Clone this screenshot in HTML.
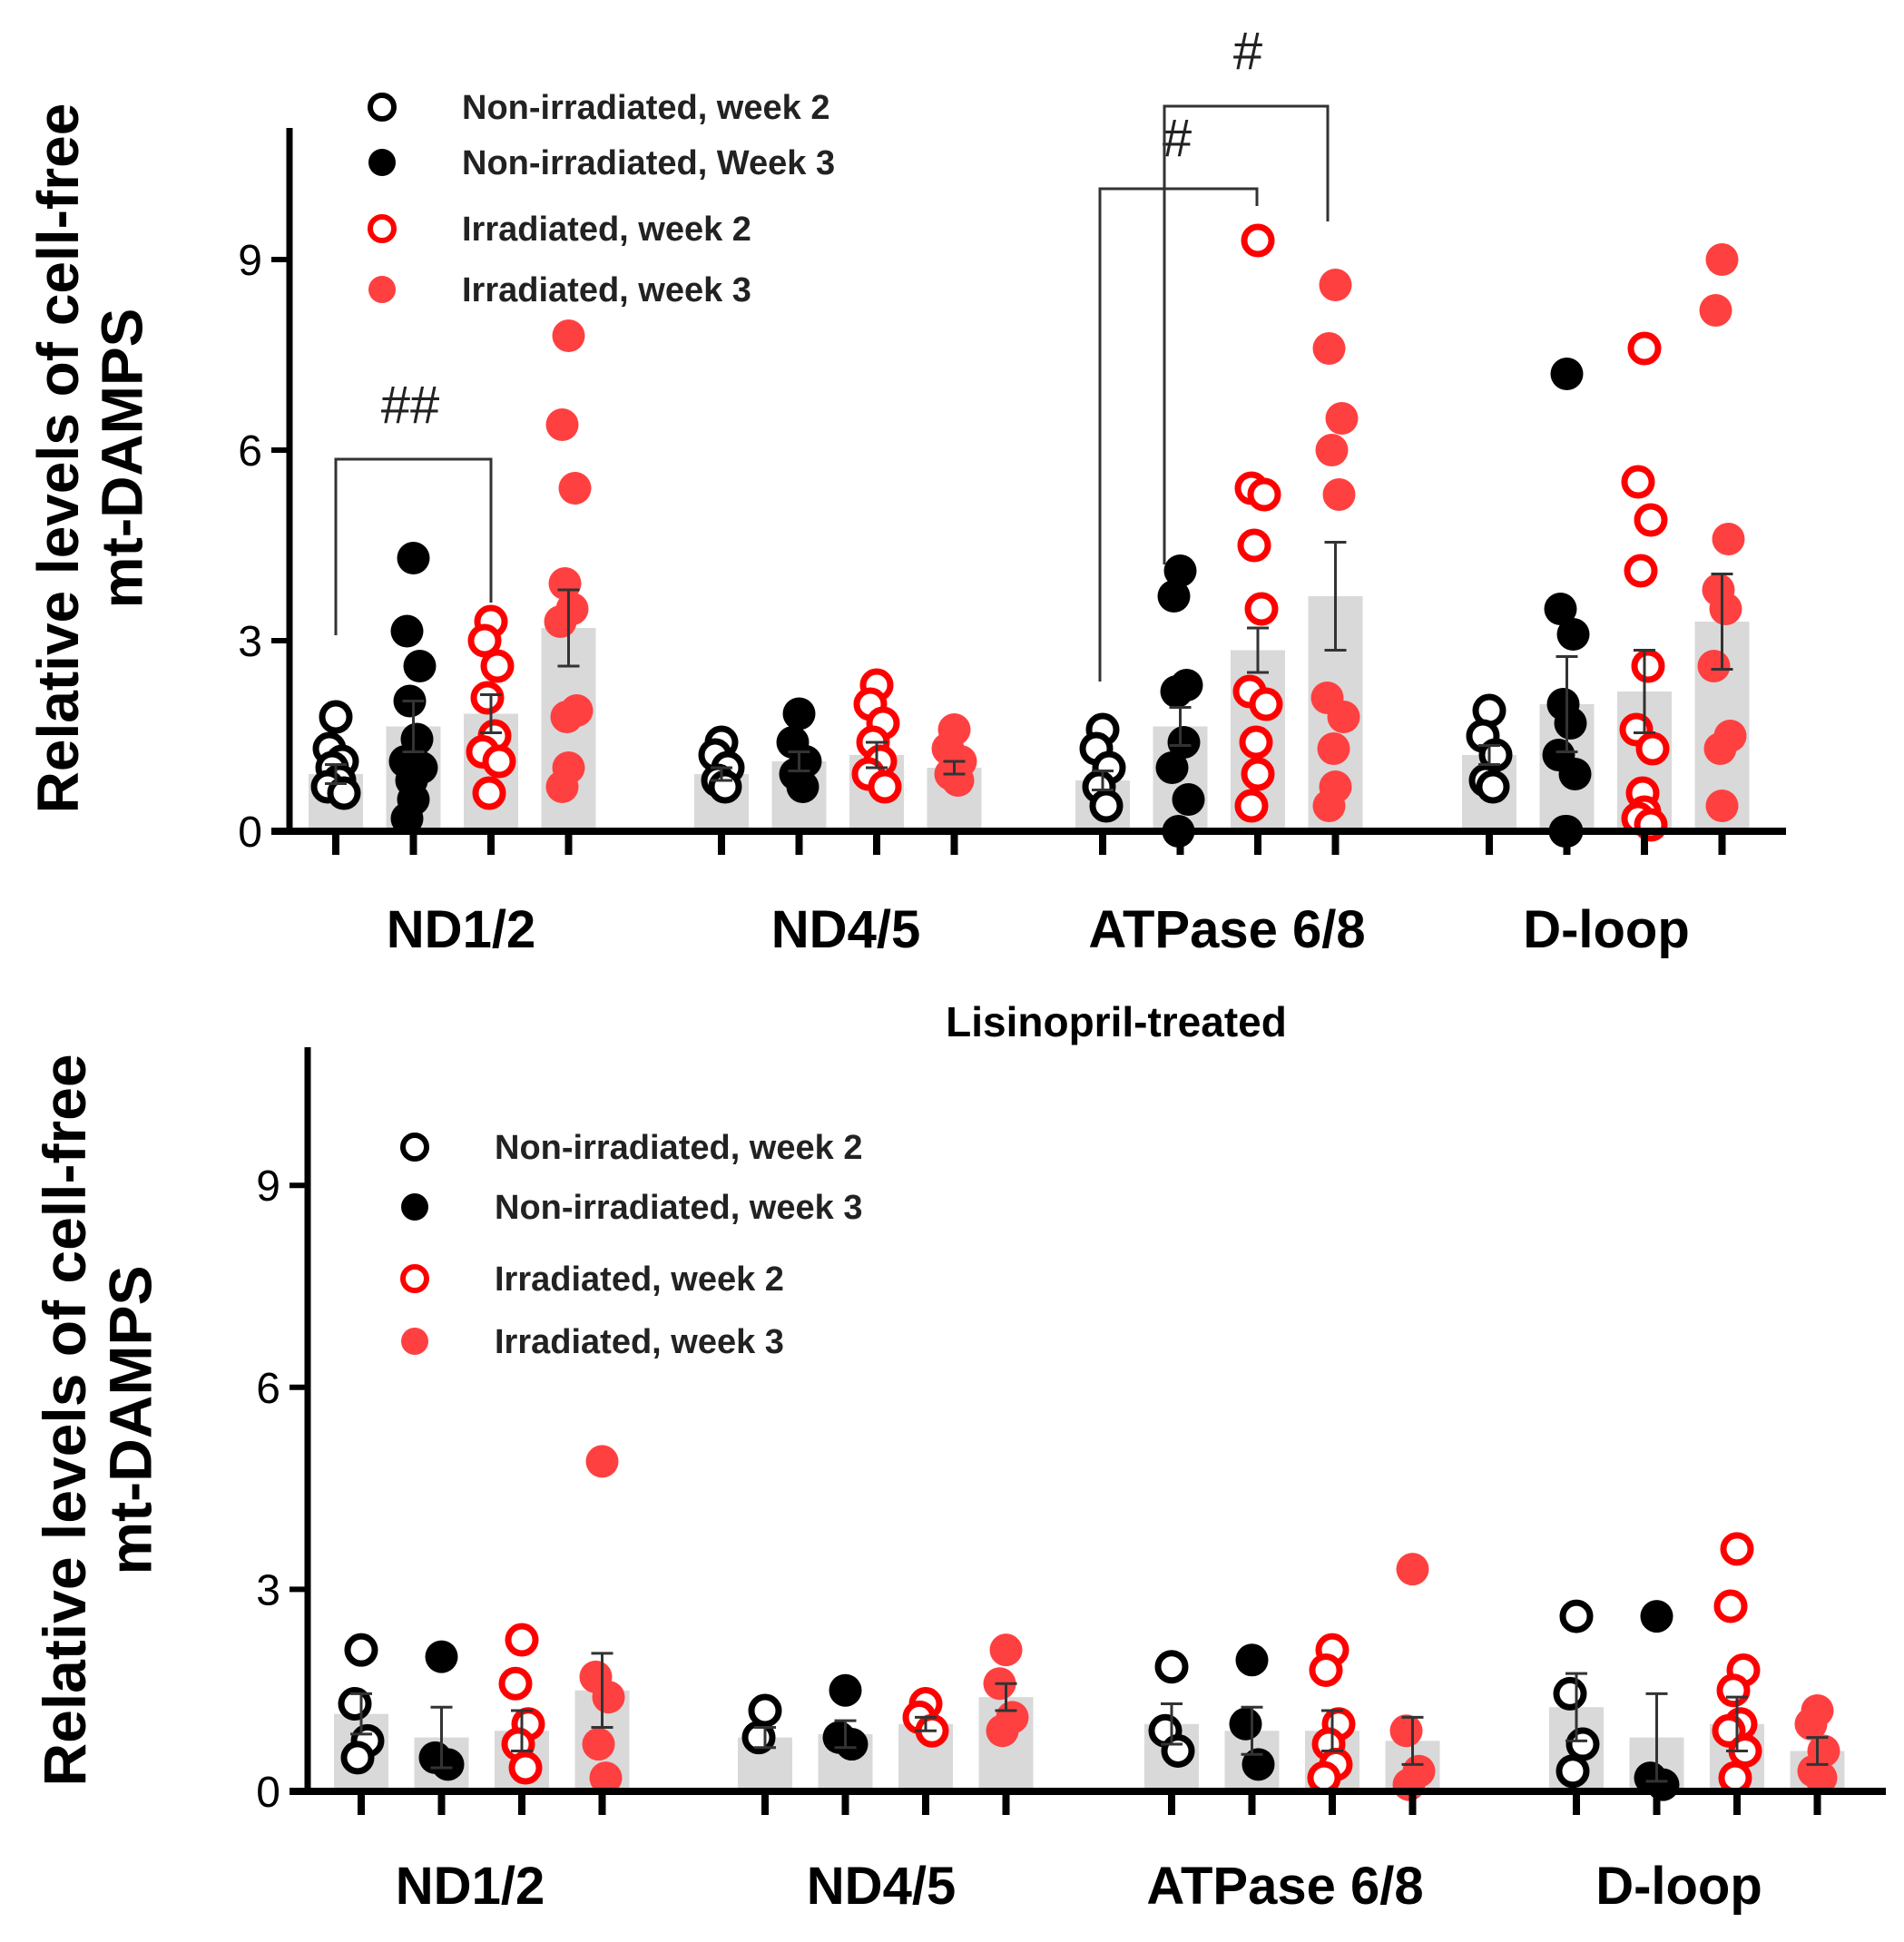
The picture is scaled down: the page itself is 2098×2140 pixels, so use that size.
<!DOCTYPE html>
<html><head><meta charset="utf-8"><style>
html,body{margin:0;padding:0;background:#fff;}
svg{display:block;font-family:"Liberation Sans",sans-serif;}
</style></head><body>
<svg id="chart" width="2098" height="2140" viewBox="0 0 2098 2140" xmlns="http://www.w3.org/2000/svg"></svg>
<script>
const categories = ["ND1/2","ND4/5","ATPase 6/8","D-loop"];
const seriesNames = ["Non-irradiated, week 2","Non-irradiated, week 3","Irradiated, week 2","Irradiated, week 3"];
const seriesNamesTop = ["Non-irradiated, week 2","Non-irradiated, Week 3","Irradiated, week 2","Irradiated, week 3"];
const yTicks = [0,3,6,9];
// Top panel (untreated)
const topMeans = [[0.9,1.65,1.85,3.2],[0.9,1.1,1.2,1.0],[0.8,1.65,2.85,3.7],[1.2,2.0,2.2,3.3]];
const topErr = [[0.15,0.4,0.3,0.6],[0.1,0.15,0.2,0.1],[0.15,0.3,0.35,0.85],[0.15,0.75,0.65,0.75]];
const topPoints = [
 [[1.8,1.3,1.1,1.0,0.8,0.7,0.6],[4.3,3.15,2.6,2.05,1.45,1.1,1.0,0.8,0.5,0.2],[3.3,3.0,2.6,2.1,1.5,1.25,1.1,0.6],[7.8,6.4,5.4,3.9,3.5,3.3,1.9,1.8,1.0,0.7]],
 [[1.4,1.2,1.0,0.8,0.7],[1.85,1.4,1.1,0.9,0.7],[2.3,2.0,1.7,1.4,1.1,0.9,0.7],[1.6,1.3,1.1,0.9,0.8]],
 [[1.6,1.3,1.0,0.7,0.4],[4.1,3.7,2.3,2.2,1.4,1.0,0.5,0.0],[9.3,5.4,5.3,4.5,3.5,2.2,2.0,1.4,0.9,0.4],[8.6,7.6,6.5,6.0,5.3,2.1,1.8,1.3,0.7,0.4]],
 [[1.9,1.5,1.2,0.8,0.7],[7.2,3.5,3.1,2.0,1.7,1.2,0.9,0.0,0.0],[7.6,5.5,4.9,4.1,2.6,1.6,1.3,0.6,0.3,0.2,0.1],[9.0,8.2,4.6,3.8,3.5,2.6,1.5,1.3,0.4]]
];
// Bottom panel (lisinopril-treated)
const botMeans = [[1.15,0.8,0.9,1.5],[0.8,0.85,1.0,1.4],[1.0,0.9,0.9,0.75],[1.25,0.8,1.0,0.6]];
const botErr = [[0.3,0.45,0.3,0.55],[0.15,0.2,0.1,0.2],[0.3,0.35,0.3,0.35],[0.5,0.65,0.4,0.2]];
const botPoints = [
 [[2.1,1.3,0.75,0.5],[2.0,0.5,0.4],[2.25,1.6,1.0,0.7,0.35],[4.9,1.7,1.4,0.7,0.2]],
 [[1.2,0.8],[1.5,0.8,0.7],[1.3,1.1,0.9],[2.1,1.6,1.1,0.9]],
 [[1.85,0.9,0.6],[1.95,1.0,0.4],[2.1,1.8,1.0,0.7,0.4,0.2],[3.3,0.9,0.3,0.1]],
 [[2.6,1.45,0.7,0.3],[2.6,0.2,0.1],[3.6,2.75,1.8,1.5,1.0,0.9,0.6,0.2],[1.2,1.0,0.6,0.3,0.2]]
];

const NS="http://www.w3.org/2000/svg";
const svg=document.getElementById('chart');
function mk(tag,attrs,parent){const e=document.createElementNS(NS,tag);for(const k in attrs)e.setAttribute(k,attrs[k]);(parent||svg).appendChild(e);return e;}
const colors=[{s:"#000",f:"#fff"},{s:"#000",f:"#000"},{s:"#f00",f:"#fff"},{s:"#ff4040",f:"#ff4040"}];

function panel(cfg){
  const g=mk('g',{});
  
  
  const y=v=>cfg.y0-v*cfg.unit;
  const x=(c,s)=>cfg.gx[c]+s*cfg.step;
  for(let c=0;c<4;c++)for(let s=0;s<4;s++){
    const b=mk('rect',{x:x(c,s)-30,y:y(cfg.means[c][s]),width:60,height:cfg.y0-y(cfg.means[c][s]),fill:"#d9d9d9"},g);
    
    
  }
  for(let c=0;c<4;c++)for(let s=0;s<4;s++){
    const pts=cfg.points[c][s];
    pts.forEach((v,i)=>{
      const off=[0,-7,7,-4,4,-9,9,-2][i%8];
      const col=colors[s];
      const p=mk('circle',{cx:x(c,s)+off,cy:y(v),r:s%2?18:15,fill:col.f,stroke:col.s,'stroke-width':s%2?0:7},g);
      
      
    });
  }
  for(let c=0;c<4;c++)for(let s=0;s<4;s++){
    const m=cfg.means[c][s],e=cfg.err[c][s],xx=x(c,s);
    const eb=mk('path',{d:`M${xx},${y(m-e)}V${y(m+e)}M${xx-12},${y(m+e)}H${xx+12}M${xx-12},${y(m-e)}H${xx+12}`,stroke:"#333",'stroke-width':3,fill:"none"},g);
    
    
  }
  const ya=mk('line',{x1:cfg.ax,y1:cfg.top,x2:cfg.ax,y2:cfg.y0+4,stroke:"#000",'stroke-width':7},g);
  
  const xa=mk('line',{x1:cfg.ax-20,y1:cfg.y0,x2:cfg.xend,y2:cfg.y0,stroke:"#000",'stroke-width':8},g);
  
  yTicks.forEach(t=>{
    mk('line',{x1:cfg.ax-20,y1:y(t),x2:cfg.ax,y2:y(t),stroke:"#000",'stroke-width':6},g);
    const tl=mk('text',{x:cfg.ax-30,y:y(t)+17,'text-anchor':'end','font-size':48},g);
    tl.textContent=t;
  });
  for(let c=0;c<4;c++){
    for(let s=0;s<4;s++)mk('line',{x1:x(c,s),y1:cfg.y0,x2:x(c,s),y2:cfg.y0+26,stroke:"#000",'stroke-width':8},g);
    const cl=mk('text',{x:cfg.lx[c],y:cfg.labY,'text-anchor':'middle','font-size':58,'font-weight':'bold'},g);
    cl.textContent=categories[c];
  }
  const tt=mk('text',{transform:`translate(${cfg.tx},${cfg.ty}) rotate(-90)`,'text-anchor':'middle','font-size':cfg.tfs,'font-weight':'bold'},g);
  
  const t1=mk('tspan',{x:0,dy:0},tt);t1.textContent="Relative levels of cell-free";
  const t2=mk('tspan',{x:0,dy:cfg.tfs*1.1},tt);t2.textContent="mt-DAMPS";
  const lg=mk('g',{},g);
  cfg.legY.forEach((ly,i)=>{
    const col=colors[i];
    mk('circle',{cx:cfg.legX,cy:ly,r:i%2?15:13,fill:col.f,stroke:col.s,'stroke-width':i%2?0:6},lg);
    const lt=mk('text',{x:cfg.legX+88,y:ly+13,'font-size':38,'font-weight':'bold',fill:'#222'},lg);
    lt.textContent=cfg.legNames[i];
  });
  return y;
}

panel({name:'untreated-panel',y0:916,unit:70,ax:319,top:141,xend:1968,
  gx:[370,795,1215,1641],step:85.5,lx:[508,932,1352,1770],labY:1044,
  means:topMeans,err:topErr,points:topPoints,tx:86,ty:505,tfs:64,
  legX:421,legY:[118,179,252,319],legNames:seriesNamesTop});
panel({name:'lisinopril-panel',y0:1974,unit:74.2,ax:339,top:1154,xend:2078,
  gx:[398,843,1291,1737],step:88.5,lx:[518,971,1416,1850],labY:2098,
  means:botMeans,err:botErr,points:botPoints,tx:94,ty:1565,tfs:66,
  legX:457,legY:[1264,1330,1409,1478],legNames:seriesNames});

const st=mk('text',{x:1230,y:1142,'text-anchor':'middle','font-size':46,'font-weight':'bold'});
st.textContent="Lisinopril-treated";



function bracket(x1,yl,x2,yr,top,label,lx,ly){
  const b=mk('path',{d:`M${x1},${yl}V${top}H${x2}V${yr}`,fill:'none',stroke:'#333','stroke-width':3});
  
  
  const t=mk('text',{x:lx,y:ly,'text-anchor':'middle','font-size':58,fill:'#222'});
  t.textContent=label;
  
  
}
bracket(370,700,541,664,506,"##",452,466);
bracket(1212,751,1385,227,208,"#",1297,172);
bracket(1283,622,1463,244,117,"#",1375,76);
</script>
</body></html>
